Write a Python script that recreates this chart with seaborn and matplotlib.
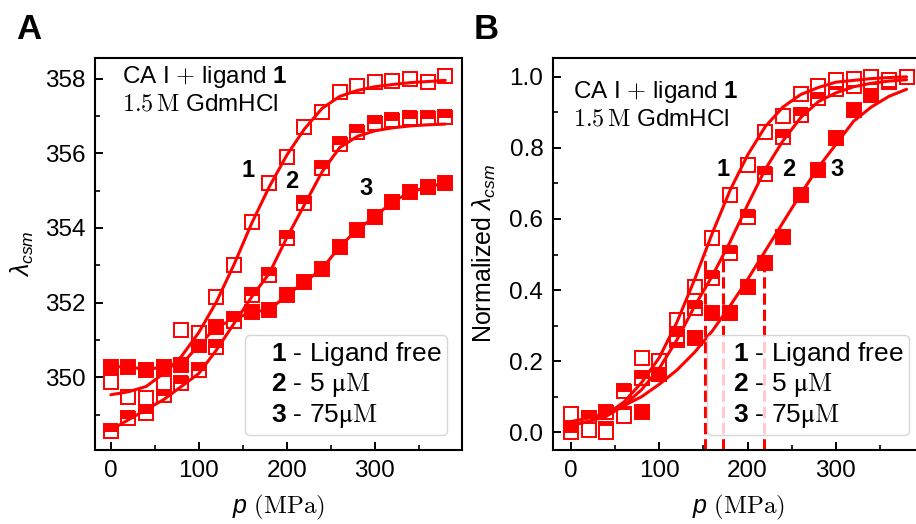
import numpy as np
import pandas as pd
import matplotlib
matplotlib.use('Agg')
import matplotlib.pyplot as plt
from matplotlib.lines import Line2D
from matplotlib.ticker import MultipleLocator
import seaborn as sns

# pressure grid (MPa)
pressure = [0, 20, 40, 60, 80, 100, 120, 140, 160, 180,
            200, 220, 240, 260, 280, 300, 320, 340, 360, 380]

# panel A - lambda_csm (nm)
free_A = [349.88, 349.48, 349.44, 349.84, 351.26, 351.18, 352.16, 353.0, 354.16, 355.2,
          355.9, 356.7, 357.1, 357.64, 357.8, 357.9, 357.93, 358.0, 357.9, 358.07]
uM5_A = [348.55, 348.9, 349.04, 349.53, 349.84, 350.2, 350.82, 351.5, 352.2, 352.75,
         353.74, 354.67, 355.6, 356.25, 356.57, 356.8, 356.88, 356.93, 356.93, 356.97]
uM75_A = [350.28, 350.28, 350.2, 350.28, 350.33, 350.86, 351.35, 351.55, 351.75, 351.8,
          352.2, 352.55, 352.9, 353.5, 353.95, 354.3, 354.7, 354.95, 355.1, 355.2]
fit_free_A = [349.53, 349.61, 349.75, 350.1, 350.55, 351.2, 352.02, 353.02, 354.12, 355.1,
              355.95, 356.65, 357.2, 357.52, 357.68, 357.78, 357.84, 357.89, 357.92, 357.95]
fit_5uM_A = [348.59, 348.86, 349.13, 349.4, 349.75, 350.1, 350.73, 351.44, 352.15, 352.78,
             353.74, 354.62, 355.5, 356.15, 356.45, 356.6, 356.68, 356.73, 356.76, 356.78]

# panel B - normalized
free_B = [0.051, 0.005, 0.0, 0.046, 0.21, 0.20, 0.315, 0.41, 0.547, 0.667,
          0.752, 0.845, 0.89, 0.953, 0.975, 0.99, 0.993, 1.0, 0.99, 1.0]
uM5_B = [0.0, 0.041, 0.058, 0.115, 0.152, 0.199, 0.272, 0.349, 0.433, 0.503,
         0.606, 0.728, 0.83, 0.892, 0.94, 0.965, 0.975, 0.985, 0.99, 1.0]
uM75_B = [0.044, 0.04, 0.01, 0.05, 0.058, 0.165, 0.26, 0.265, 0.335, 0.335,
          0.41, 0.475, 0.55, 0.667, 0.738, 0.827, 0.906, 0.949, 0.986, 1.0]
fit_free_B = [0.02, 0.03, 0.05, 0.085, 0.14, 0.21, 0.31, 0.43, 0.56, 0.68,
              0.78, 0.86, 0.915, 0.95, 0.97, 0.985, 0.99, 0.995, 0.998, 1.0]
fit_5uM_B = [0.02, 0.03, 0.045, 0.075, 0.12, 0.18, 0.26, 0.355, 0.44, 0.535,
             0.64, 0.74, 0.82, 0.885, 0.93, 0.955, 0.972, 0.982, 0.988, 0.992]
fit_75uM_B = [0.03, 0.04, 0.055, 0.075, 0.1, 0.135, 0.175, 0.225, 0.285, 0.355,
              0.43, 0.51, 0.59, 0.67, 0.745, 0.81, 0.875, 0.915, 0.945, 0.965]
midpoints = [151.8, 172.5, 218.6]

legend_labels = [r'$\mathbf{1}$ - Ligand free', r'$\mathbf{2}$ - 5 $\mathrm{\mu M}$',
                 r'$\mathbf{3}$ - 75$\mathrm{\mu M}$']

sns.set_theme(style='ticks')
plt.rcParams['font.family'] = ['Liberation Sans', 'DejaVu Sans']
plt.rcParams['mathtext.fontset'] = 'custom'
plt.rcParams['mathtext.rm'] = 'cmr10'
plt.rcParams['mathtext.it'] = 'Liberation Sans:italic'
plt.rcParams['mathtext.bf'] = 'Liberation Sans:bold'
plt.rcParams['mathtext.sf'] = 'Liberation Sans'
plt.rcParams['mathtext.fallback'] = 'stix'
plt.rcParams['axes.linewidth'] = 1.5
for key in ('text.color', 'axes.labelcolor', 'xtick.color', 'ytick.color', 'axes.edgecolor'):
    plt.rcParams[key] = 'black'

df_A = pd.DataFrame({'p': pressure, 'free': free_A, 'uM5': uM5_A, 'uM75': uM75_A,
                     'fit_free': fit_free_A, 'fit_5': fit_5uM_A})
df_B = pd.DataFrame({'p': pressure, 'free': free_B, 'uM5': uM5_B, 'uM75': uM75_B,
                     'fit_free': fit_free_B, 'fit_5': fit_5uM_B, 'fit_75': fit_75uM_B})

RED = '#ff0000'
ms, mew = 10.3, 1.4

fig = plt.figure(figsize=(9.16, 5.24), dpi=100)
axA = fig.add_axes([95 / 916, 74 / 524, 367 / 916, 392 / 524])
axB = fig.add_axes([553 / 916, 74 / 524, 370.6 / 916, 392 / 524])


def markers(df, ax, col, kind, line=False):
    kw = dict(marker='s', markersize=ms, markeredgewidth=mew, markeredgecolor=RED,
              color=RED, linestyle='-' if line else 'none', linewidth=2.2)
    if kind == 'open':
        kw.update(markerfacecolor='white')
    elif kind == 'top':
        kw.update(markerfacecolor=RED, fillstyle='top', markerfacecoloralt='white')
    else:
        kw.update(markerfacecolor=RED)
    sns.lineplot(data=df, x='p', y=col, ax=ax, estimator=None, sort=False, **kw)


def fitline(df, ax, col):
    sns.lineplot(data=df, x='p', y=col, ax=ax, estimator=None, color=RED,
                 linewidth=2.2, zorder=4)


# panel A
markers(df_A, axA, 'uM75', 'filled', line=True)
markers(df_A, axA, 'uM5', 'top')
markers(df_A, axA, 'free', 'open')
fitline(df_A, axA, 'fit_free')
fitline(df_A, axA, 'fit_5')

# panel B
axB.vlines(midpoints, -0.05, 0.5, colors=RED, linestyles='--', linewidth=2.2, zorder=1)
markers(df_B, axB, 'uM75', 'filled')
markers(df_B, axB, 'uM5', 'top')
markers(df_B, axB, 'free', 'open')
fitline(df_B, axB, 'fit_free')
fitline(df_B, axB, 'fit_5')
fitline(df_B, axB, 'fit_75')

axA.set_xlim(-18, 399)
axA.set_ylim(348.05, 358.55)
axB.set_xlim(-20.4, 399.3)
axB.set_ylim(-0.05, 1.053)

axA.yaxis.set_major_locator(MultipleLocator(2))
axA.yaxis.set_minor_locator(MultipleLocator(1))
axB.yaxis.set_major_locator(MultipleLocator(0.2))
axB.yaxis.set_minor_locator(MultipleLocator(0.1))
axB.yaxis.set_major_formatter(matplotlib.ticker.FormatStrFormatter('%.1f'))

for ax in (axA, axB):
    ax.xaxis.set_major_locator(MultipleLocator(100))
    ax.xaxis.set_minor_locator(MultipleLocator(50))
    ax.tick_params(which='major', direction='in', length=6, width=1.4,
                   labelsize=17.5, pad=7, color='black')
    ax.tick_params(which='minor', direction='in', length=3.5, width=1.2, color='black')
    ax.set_xlabel(r'$p\ \mathrm{(MPa)}$', fontsize=18, labelpad=8)
    handles = [Line2D([], [], linestyle='none') for _ in legend_labels]
    leg = ax.legend(handles, legend_labels, loc='lower right', fontsize=19,
                    handlelength=0, handletextpad=0.8, borderpad=0.2,
                    labelspacing=0.12, borderaxespad=0.55, framealpha=0.8,
                    edgecolor='0.8', fancybox=True)

axA.set_ylabel(r'$\lambda_{csm}$', fontsize=18, labelpad=6)
axB.set_ylabel(r'Normalized $\lambda_{csm}$', fontsize=18, labelpad=8)

# headers
axA.text(0.073, 0.936, r'CA I $+$ ligand $\mathbf{1}$', transform=axA.transAxes,
         fontsize=17.5, va='baseline')
axA.text(0.073, 0.865, r'$1.5\,\mathrm{M}$ GdmHCl', transform=axA.transAxes,
         fontsize=17.5, va='baseline')
axB.text(0.054, 0.898, r'CA I $+$ ligand $\mathbf{1}$', transform=axB.transAxes,
         fontsize=17.5, va='baseline')
axB.text(0.054, 0.829, r'$1.5\,\mathrm{M}$ GdmHCl', transform=axB.transAxes,
         fontsize=17.5, va='baseline')

for ax, pos in ((axA, [(156, 355.54), (206, 355.23), (290.5, 355.05)]),
                (axB, [(172.5, 0.74), (247, 0.74), (301, 0.74)])):
    for lab, (xx, yy) in zip(['1', '2', '3'], pos):
        ax.text(xx, yy, lab, fontsize=17, fontweight='bold', ha='center', va='center')

fig.text(16 / 916, 1 - 39 / 524, 'A', fontsize=25, fontweight='bold', va='baseline')
fig.text(474 / 916, 1 - 39 / 524, 'B', fontsize=25, fontweight='bold', va='baseline')

fig.savefig('out.png', dpi=100)
